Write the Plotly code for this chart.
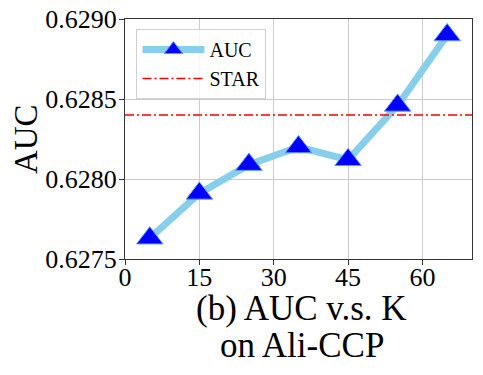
import plotly.graph_objects as go

# ==================================
# DATA
# ==================================

k_values = [5, 15, 25, 35, 45, 55, 65]
auc_values = [0.62763, 0.62791, 0.62809, 0.62820, 0.62812, 0.62846, 0.62890]
star_auc = 0.6284

x_ticks = [0, 15, 30, 45, 60]
y_ticks = [0.6275, 0.6280, 0.6285, 0.6290]

FONT = "Liberation Serif"

# ==================================
# FIGURE
# ==================================

fig = go.Figure()

fig.add_trace(go.Scatter(
    x=k_values,
    y=auc_values,
    mode="lines+markers",
    name="AUC",
    line=dict(color="#87CEEB", width=7),
    marker=dict(
        symbol="triangle-up",
        size=23,
        color="#0000FF",
        line=dict(color="#5f9dff", width=1)
    )
))

fig.add_trace(go.Scatter(
    x=[0, 70],
    y=[star_auc, star_auc],
    mode="lines",
    name="STAR",
    line=dict(color="#FF0000", width=1.5, dash="9px,3px,2px,3px")
))

# page body has an 8px margin, so the figure is shrunk to fit the window
fig.update_layout(
    width=475,
    height=367,
    margin=dict(l=117, r=11, t=11, b=116),
    paper_bgcolor="white",
    plot_bgcolor="white",
    font=dict(family=FONT, color="black", size=26),
    showlegend=True,
    legend=dict(
        x=0.033,
        y=0.958,
        xanchor="left",
        yanchor="top",
        bgcolor="rgba(255,255,255,0.8)",
        bordercolor="#d0d0d0",
        borderwidth=1,
        font=dict(family=FONT, size=20),
        itemwidth=62,
        tracegroupgap=0
    ),
    annotations=[
        dict(
            text="(b) AUC v.s. K",
            xref="paper", yref="paper",
            x=0.51, y=-0.207,
            xanchor="center", yanchor="middle",
            showarrow=False,
            font=dict(family=FONT, size=35)
        ),
        dict(
            text="on Ali-CCP",
            xref="paper", yref="paper",
            x=0.51, y=-0.359,
            xanchor="center", yanchor="middle",
            showarrow=False,
            font=dict(family=FONT, size=35)
        ),
        dict(
            text="AUC",
            xref="paper", yref="paper",
            x=-0.285, y=0.5,
            xanchor="center", yanchor="middle",
            textangle=-90,
            showarrow=False,
            font=dict(family=FONT, size=33)
        )
    ]
)

fig.update_xaxes(
    range=[0, 70],
    tickvals=x_ticks,
    ticks="outside",
    ticklen=5,
    tickcolor="#333",
    showline=True,
    linecolor="#333",
    linewidth=1,
    mirror=True,
    showgrid=True,
    gridcolor="#cccccc",
    gridwidth=1,
    zeroline=False,
    automargin=False,
    ticklabeloverflow="allow",
    ticklabelstandoff=-10,
    tickfont=dict(family=FONT, size=26)
)

fig.update_yaxes(
    range=[0.6275, 0.6290],
    tickvals=y_ticks,
    tickformat=".4f",
    ticks="outside",
    ticklen=5,
    tickcolor="#333",
    showline=True,
    linecolor="#333",
    linewidth=1,
    mirror=True,
    showgrid=True,
    gridcolor="#cccccc",
    gridwidth=1,
    zeroline=False,
    automargin=False,
    ticklabeloverflow="allow",
    ticklabelstandoff=-3,
    tickfont=dict(family=FONT, size=26)
)

fig.write_html("out.html")
